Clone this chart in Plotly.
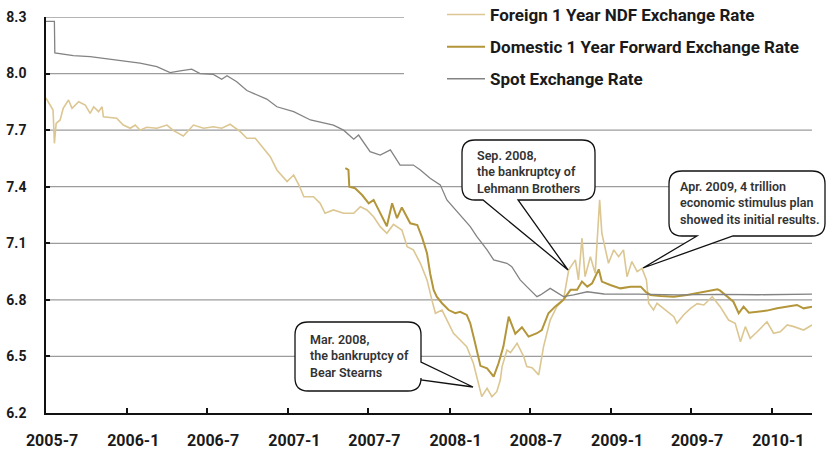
import plotly.graph_objects as go

# ---------------- data ----------------
spot_dates = ["2005-07-01", "2005-07-20", "2005-07-21", "2005-08-02", "2005-09-01", "2005-10-09",
              "2005-11-23", "2006-01-01", "2006-01-30", "2006-03-09", "2006-04-08", "2006-05-01",
              "2006-05-27", "2006-06-15", "2006-07-15", "2006-08-03", "2006-08-15", "2006-09-06",
              "2006-09-29", "2006-11-13", "2006-12-06", "2007-01-13", "2007-02-20", "2007-04-13",
              "2007-05-06", "2007-05-29", "2007-06-09", "2007-07-05", "2007-07-28", "2007-08-20",
              "2007-09-11", "2007-10-11", "2007-10-27", "2007-11-18", "2007-12-11", "2007-12-26",
              "2008-01-18", "2008-02-17", "2008-03-03", "2008-03-26", "2008-04-10", "2008-05-10",
              "2008-05-21", "2008-06-09", "2008-06-24", "2008-07-17", "2008-07-25", "2008-08-16",
              "2008-09-15", "2008-10-08", "2008-11-08", "2008-12-16", "2009-03-01", "2009-06-01",
              "2009-09-01", "2009-12-01", "2010-04-01"]
spot_vals = [8.277, 8.277, 8.110, 8.105, 8.095, 8.090,
             8.077, 8.067, 8.055, 8.037, 8.005, 8.014,
             8.023, 8.000, 7.996, 7.970, 7.989, 7.957,
             7.910, 7.865, 7.824, 7.798, 7.754, 7.727,
             7.700, 7.652, 7.674, 7.586, 7.568, 7.595,
             7.515, 7.515, 7.489, 7.445, 7.410, 7.330,
             7.268, 7.188, 7.135, 7.065, 7.012, 6.994,
             6.976, 6.906, 6.870, 6.817, 6.826, 6.861,
             6.817, 6.826, 6.843, 6.831, 6.830, 6.826,
             6.829, 6.827, 6.830]

ndf_dates = ["2005-07-01", "2005-07-11", "2005-07-17", "2005-07-20", "2005-07-24", "2005-08-02",
             "2005-08-09", "2005-08-21", "2005-08-29", "2005-09-13", "2005-09-28", "2005-10-09",
             "2005-10-17", "2005-10-28", "2005-11-05", "2005-11-08", "2005-12-08", "2005-12-23",
             "2006-01-08", "2006-01-19", "2006-01-30", "2006-02-14", "2006-03-09", "2006-04-01",
             "2006-04-16", "2006-05-08", "2006-05-31", "2006-06-23", "2006-07-15", "2006-08-03",
             "2006-08-22", "2006-09-14", "2006-09-29", "2006-10-18", "2006-11-06", "2006-11-21",
             "2006-12-06", "2006-12-29", "2007-01-13", "2007-01-25", "2007-02-05", "2007-02-27",
             "2007-03-14", "2007-03-25", "2007-04-13", "2007-05-06", "2007-05-29", "2007-06-13",
             "2007-06-28", "2007-07-13", "2007-07-28", "2007-08-12", "2007-08-27", "2007-09-15",
             "2007-09-27", "2007-10-11", "2007-10-27", "2007-11-11", "2007-11-22", "2007-11-30",
             "2007-12-15", "2007-12-30", "2008-01-10", "2008-01-25", "2008-02-09", "2008-02-24",
             "2008-03-07", "2008-03-14", "2008-03-26", "2008-04-06", "2008-04-17", "2008-04-25",
             "2008-04-29", "2008-05-10", "2008-05-18", "2008-06-02", "2008-06-17", "2008-06-24",
             "2008-07-06", "2008-07-21", "2008-08-01", "2008-08-16", "2008-08-31", "2008-09-15",
             "2008-09-27", "2008-10-12", "2008-10-19", "2008-10-27", "2008-11-03", "2008-11-15",
             "2008-11-26", "2008-12-06", "2008-12-11", "2008-12-19", "2008-12-26", "2009-01-07",
             "2009-01-18", "2009-01-29", "2009-02-06", "2009-02-17", "2009-03-01", "2009-03-12",
             "2009-03-22", "2009-03-27", "2009-04-07", "2009-04-15", "2009-04-30", "2009-05-11",
             "2009-05-23", "2009-05-30", "2009-06-14", "2009-06-30", "2009-07-15", "2009-07-30",
             "2009-08-18", "2009-09-05", "2009-09-24", "2009-10-09", "2009-10-21", "2009-11-01",
             "2009-11-12", "2009-11-28", "2009-12-20", "2010-01-04", "2010-01-19", "2010-02-04",
             "2010-02-19", "2010-03-13", "2010-04-01"]
ndf_vals = [7.869, 7.833, 7.807, 7.630, 7.736, 7.754,
            7.816, 7.860, 7.816, 7.851, 7.833, 7.789,
            7.824, 7.798, 7.824, 7.771, 7.763, 7.727,
            7.710, 7.727, 7.700, 7.715, 7.710, 7.727,
            7.697, 7.669, 7.727, 7.710, 7.718, 7.710,
            7.731, 7.692, 7.657, 7.657, 7.604, 7.559,
            7.489, 7.427, 7.462, 7.409, 7.347, 7.347,
            7.312, 7.259, 7.277, 7.259, 7.259, 7.294,
            7.277, 7.241, 7.188, 7.153, 7.200, 7.170,
            7.082, 7.065, 6.994, 6.906, 6.800, 6.729,
            6.746, 6.676, 6.623, 6.587, 6.552, 6.464,
            6.357, 6.287, 6.331, 6.287, 6.313, 6.375,
            6.446, 6.534, 6.520, 6.570, 6.499, 6.446,
            6.440, 6.402, 6.552, 6.693, 6.764, 6.800,
            6.959, 7.012, 6.906, 7.127, 6.923, 7.029,
            6.941, 7.330, 7.153, 7.065, 6.994, 7.065,
            7.029, 7.065, 6.923, 7.003, 6.950, 6.967,
            6.906, 6.782, 6.746, 6.782, 6.755, 6.737,
            6.711, 6.676, 6.720, 6.755, 6.780, 6.773,
            6.817, 6.764, 6.693, 6.676, 6.578, 6.658,
            6.596, 6.631, 6.684, 6.623, 6.631, 6.667,
            6.658, 6.640, 6.667]

dom_dates = ["2007-05-10", "2007-05-17", "2007-05-19", "2007-06-01", "2007-06-17", "2007-07-02",
             "2007-07-13", "2007-07-28", "2007-08-12", "2007-08-24", "2007-09-04", "2007-09-15",
             "2007-10-04", "2007-10-20", "2007-10-31", "2007-11-11", "2007-11-18", "2007-11-26",
             "2007-12-03", "2007-12-15", "2007-12-30", "2008-01-14", "2008-01-25", "2008-02-09",
             "2008-02-17", "2008-02-28", "2008-03-11", "2008-03-26", "2008-04-10", "2008-04-21",
             "2008-05-02", "2008-05-14", "2008-05-29", "2008-06-13", "2008-06-28", "2008-07-17",
             "2008-07-28", "2008-08-12", "2008-08-27", "2008-09-15", "2008-10-01", "2008-10-16",
             "2008-10-27", "2008-11-08", "2008-11-19", "2008-12-04", "2008-12-11", "2008-12-30",
             "2009-01-22", "2009-02-14", "2009-03-09", "2009-03-20", "2009-03-31", "2009-04-23",
             "2009-05-23", "2009-06-22", "2009-07-23", "2009-08-30", "2009-09-05", "2009-09-20",
             "2009-10-05", "2009-10-17", "2009-10-28", "2009-11-09", "2009-11-28", "2009-12-20",
             "2010-01-12", "2010-02-04", "2010-02-26", "2010-03-13", "2010-04-01"]
dom_vals = [7.498, 7.489, 7.400, 7.392, 7.356, 7.312,
            7.330, 7.259, 7.190, 7.312, 7.233, 7.290,
            7.206, 7.197, 7.130, 7.047, 6.941, 6.853,
            6.817, 6.782, 6.746, 6.729, 6.737, 6.720,
            6.676, 6.570, 6.450, 6.437, 6.393, 6.464,
            6.552, 6.711, 6.620, 6.655, 6.605, 6.623,
            6.640, 6.729, 6.764, 6.800, 6.853, 6.853,
            6.897, 6.870, 6.888, 6.962, 6.897, 6.879,
            6.861, 6.870, 6.870, 6.843, 6.826, 6.821,
            6.817, 6.826, 6.838, 6.856, 6.849, 6.817,
            6.790, 6.729, 6.764, 6.732, 6.737, 6.743,
            6.755, 6.764, 6.773, 6.755, 6.764]

tick_dates = ["2005-07-01", "2006-01-01", "2006-07-01", "2007-01-01", "2007-07-01",
              "2008-01-01", "2008-07-01", "2009-01-01", "2009-07-01", "2010-01-01"]
tick_labels = ["2005-7", "2006-1", "2006-7", "2007-1", "2007-7",
               "2008-1", "2008-7", "2009-1", "2009-7", "2010-1"]
y_ticks = [6.2, 6.5, 6.8, 7.1, 7.4, 7.7, 8.0, 8.3]

names = ["Foreign 1 Year NDF Exchange Rate", "Domestic 1 Year Forward Exchange Rate", "Spot Exchange Rate"]
colors = ["#dcc792", "#b3953a", "#838383"]

callout_texts = [
    "Mar. 2008,<br>the bankruptcy of<br>Bear Stearns",
    "Sep. 2008,<br>the bankruptcy of<br>Lehmann Brothers",
    "Apr. 2009, 4 trillion<br>economic stimulus plan<br>showed its initial results.",
]

# ---------------- layout geometry ----------------
W, H = 826, 454
ML, MR, MT, MB = 46, 14, 17, 41
PW, PH = W - ML - MR, H - MT - MB


def px(x, y):
    return (x - ML) / PW, (H - MB - y) / PH


def bubble(x0, y0, x1, y1, tail, side, r=13):
    """Rounded box with a pointer tail, in pixel coordinates -> paper path."""
    def P(x, y):
        a, b = px(x, y)
        return f"{a:.5f},{b:.5f}"

    s = f"M{P(x0 + r, y0)} L{P(x1 - r, y0)} Q{P(x1, y0)} {P(x1, y0 + r)} "
    if side == "right":
        ta, tb, tx, ty = tail
        s += f"L{P(x1, ta)} L{P(tx, ty)} L{P(x1, tb)} "
    s += f"L{P(x1, y1 - r)} Q{P(x1, y1)} {P(x1 - r, y1)} "
    if side == "bottom":
        ta, tb, tx, ty = tail
        s += f"L{P(tb, y1)} L{P(tx, ty)} L{P(ta, y1)} "
    s += f"L{P(x0 + r, y1)} Q{P(x0, y1)} {P(x0, y1 - r)} L{P(x0, y0 + r)} Q{P(x0, y0)} {P(x0 + r, y0)} Z"
    return s


fig = go.Figure()
series = [(ndf_dates, ndf_vals, 1.6), (dom_dates, dom_vals, 2.0), (spot_dates, spot_vals, 1.3)]
for i, (xd, yd, w) in enumerate(series):
    fig.add_trace(go.Scatter(
        x=xd, y=yd, mode="lines", name=names[i], legendgroup=str(i),
        line=dict(color=colors[i], width=w),
    ))

shapes = []
# horizontal gridlines (the top two stop where the legend begins)
legend_left = px(404, 0)[0]
for v in y_ticks[1:]:
    shapes.append(dict(type="line", xref="paper", yref="y", x0=0, x1=(legend_left if v >= 8.0 else 1),
                       y0=v, y1=v, line=dict(color="#9c9c9c", width=1.3), layer="below"))

bubbles = [
    (295, 322, 421, 391, (362, 380, 473, 387), "right"),
    (462, 140, 595, 200, (483, 518, 568, 270), "bottom"),
    (669, 171, 825, 236, (697, 733, 643, 268), "bottom"),
]
for (bx0, by0, bx1, by1, tail, side) in bubbles:
    shapes.append(dict(type="path", xref="paper", yref="paper",
                       path=bubble(bx0, by0, bx1, by1, tail, side),
                       fillcolor="white", line=dict(color="#111111", width=1.3), layer="above"))

annotations = []
text_pos = [(309, 356), (476, 171.5), (679, 203)]
for t, (tx, ty) in zip(callout_texts, text_pos):
    ax, ay = px(tx, ty)
    annotations.append(dict(text=t, xref="paper", yref="paper", x=ax, y=ay,
                            xanchor="left", yanchor="middle", align="left", showarrow=False,
                            borderpad=0,
                            font=dict(family="Roboto", size=12.5, color="#333333", weight=600)))

lx, ly = px(442, -3)
fig.update_layout(
    width=W, height=H,
    margin=dict(l=ML, r=MR, t=MT, b=MB, pad=0, autoexpand=False),
    paper_bgcolor="white", plot_bgcolor="white",
    font=dict(family="Roboto", color="#1a1a1a"),
    showlegend=True,
    legend=dict(x=lx, y=ly, xanchor="left", yanchor="top", bgcolor="rgba(0,0,0,0)",
                traceorder="grouped", tracegroupgap=7, itemwidth=38,
                font=dict(family="Roboto", size=17, color="#1a1a1a", weight="bold")),
    xaxis=dict(range=["2005-07-01", "2010-04-01"], tickvals=tick_dates, ticktext=tick_labels,
               ticks="inside", ticklen=5, tickwidth=1.5, tickcolor="#111111",
               showline=True, linecolor="#111111", linewidth=1.5, showgrid=False, zeroline=False,
               ticklabelstandoff=12, ticklabelshift=6,
               tickfont=dict(family="Roboto", size=16, color="#1a1a1a", weight="bold")),
    yaxis=dict(range=[6.2, 8.3], tickvals=y_ticks, tickformat=".1f",
               ticks="inside", ticklen=4, tickwidth=1.5, tickcolor="#111111",
               showline=True, linecolor="#111111", linewidth=1.5,
               showgrid=False, zeroline=False,
               ticklabelstandoff=15,
               tickfont=dict(family="Roboto", size=14, color="#1a1a1a", weight="bold")),
    shapes=shapes, annotations=annotations,
)

fig.write_html("out.html", config={"displayModeBar": False},
               post_script="document.body.style.margin='0px';")
